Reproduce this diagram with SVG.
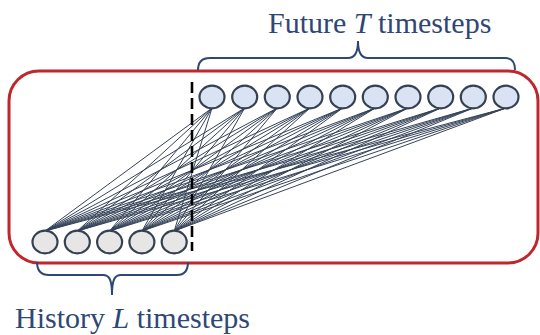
<svg xmlns="http://www.w3.org/2000/svg" width="540" height="335" viewBox="0 0 540 335">
<style>
.lbl{font-family:"Liberation Serif","Times New Roman",serif;font-size:30px;fill:#2f4775}
.brace{fill:none;stroke:#2f4775;stroke-width:2}
.fut{fill:#dae3f3;stroke:#354152;stroke-width:2.2}
.hist{fill:#e6e6e6;stroke:#354152;stroke-width:2.2}
.edge{stroke:#36445a;stroke-width:1}
</style>
<rect x="9" y="71" width="529" height="192" rx="30" ry="30" fill="none" stroke="#c0272d" stroke-width="3"/>
<g id="connectors" class="edge">
<path d="M45,231 L212,108 M45,231 L244.7,108 M45,231 L277.3,108 M45,231 L310,108 M45,231 L342.7,108 M45,231 L375.3,108 M45,231 L408,108 M45,231 L440.7,108 M45,231 L473.3,108 M45,231 L506,108"/>
<path d="M77.3,231 L212,108 M77.3,231 L244.7,108 M77.3,231 L277.3,108 M77.3,231 L310,108 M77.3,231 L342.7,108 M77.3,231 L375.3,108 M77.3,231 L408,108 M77.3,231 L440.7,108 M77.3,231 L473.3,108 M77.3,231 L506,108"/>
<path d="M109.6,231 L212,108 M109.6,231 L244.7,108 M109.6,231 L277.3,108 M109.6,231 L310,108 M109.6,231 L342.7,108 M109.6,231 L375.3,108 M109.6,231 L408,108 M109.6,231 L440.7,108 M109.6,231 L473.3,108 M109.6,231 L506,108"/>
<path d="M141.9,231 L212,108 M141.9,231 L244.7,108 M141.9,231 L277.3,108 M141.9,231 L310,108 M141.9,231 L342.7,108 M141.9,231 L375.3,108 M141.9,231 L408,108 M141.9,231 L440.7,108 M141.9,231 L473.3,108 M141.9,231 L506,108"/>
<path d="M174.2,231 L212,108 M174.2,231 L244.7,108 M174.2,231 L277.3,108 M174.2,231 L310,108 M174.2,231 L342.7,108 M174.2,231 L375.3,108 M174.2,231 L408,108 M174.2,231 L440.7,108 M174.2,231 L473.3,108 M174.2,231 L506,108"/>
</g>
<line x1="192" y1="82" x2="192" y2="251" stroke="#000" stroke-width="2.6" stroke-dasharray="11,5"/>
<g id="future">
<ellipse id="f1" class="fut" cx="212" cy="97" rx="12.5" ry="11.3"/>
<ellipse id="f2" class="fut" cx="244.7" cy="97" rx="12.5" ry="11.3"/>
<ellipse id="f3" class="fut" cx="277.3" cy="97" rx="12.5" ry="11.3"/>
<ellipse id="f4" class="fut" cx="310" cy="97" rx="12.5" ry="11.3"/>
<ellipse id="f5" class="fut" cx="342.7" cy="97" rx="12.5" ry="11.3"/>
<ellipse id="f6" class="fut" cx="375.3" cy="97" rx="12.5" ry="11.3"/>
<ellipse id="f7" class="fut" cx="408" cy="97" rx="12.5" ry="11.3"/>
<ellipse id="f8" class="fut" cx="440.7" cy="97" rx="12.5" ry="11.3"/>
<ellipse id="f9" class="fut" cx="473.3" cy="97" rx="12.5" ry="11.3"/>
<ellipse id="f10" class="fut" cx="506" cy="97" rx="12.5" ry="11.3"/>
</g>
<g id="history">
<ellipse id="h1" class="hist" cx="45" cy="242" rx="12.5" ry="11.3"/>
<ellipse id="h2" class="hist" cx="77.3" cy="242" rx="12.5" ry="11.3"/>
<ellipse id="h3" class="hist" cx="109.6" cy="242" rx="12.5" ry="11.3"/>
<ellipse id="h4" class="hist" cx="141.9" cy="242" rx="12.5" ry="11.3"/>
<ellipse id="h5" class="hist" cx="174.2" cy="242" rx="12.5" ry="11.3"/>
</g>
<g id="future-label">
<path class="brace" d="M198,70 C198,62 202,58 210,58 L348,58 C354,58 358,54 358,41 C358,54 362,58 368,58 L505,58 C512,58 515,62 515,70"/>
<text class="lbl" x="268" y="33">Future <tspan font-style="italic">T</tspan> timesteps</text>
</g>
<g id="history-label">
<path class="brace" d="M37,262 C37,271 41,275 49,275 L103,275 C109,275 112,279 112,295 C112,279 115,275 121,275 L177,275 C184,275 188,271 188,262"/>
<text class="lbl" x="15" y="328">History <tspan font-style="italic">L</tspan> timesteps</text>
</g>
</svg>
